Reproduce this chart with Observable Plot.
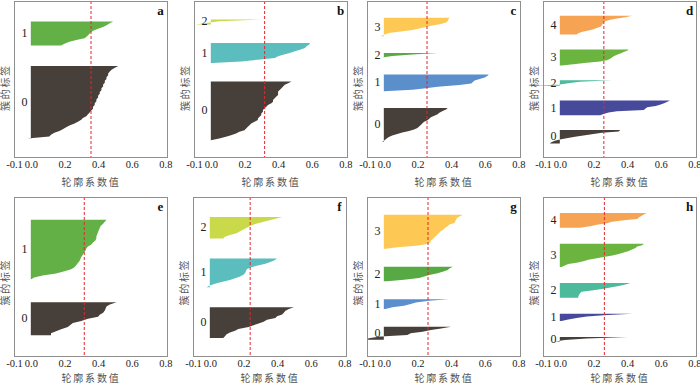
<!DOCTYPE html>
<html><head><meta charset="utf-8">
<script src="https://cdn.jsdelivr.net/npm/d3@7"></script>
<script src="https://cdn.jsdelivr.net/npm/@observablehq/plot@0.6"></script>
<style>
body{margin:0;background:#fff;}
#chart{position:relative;width:700px;height:384px;overflow:hidden;background:#fff;}
.panel{position:absolute;}
</style></head><body><div id="chart"></div>
<script>
// ---- data ----
const panelLetters = ["a","b","c","d","e","f","g","h"];
const xTicks = [-0.1, 0.0, 0.2, 0.4, 0.6, 0.8];
const meanScores = [0.355, 0.317, 0.254, 0.259, 0.315, 0.237, 0.260, 0.262];
const xTitle = "轮廓系数值";
const yTitle = "簇的标签";

// silhouette values of each cluster, sorted high -> low (one value per sample)
const a0 = [0.52,0.50,0.48,0.47,0.46,0.46,0.45,0.45,0.44,0.44,0.43,0.43,0.42,0.42,0.41,0.41,0.40,0.40,0.39,0.39,0.38,0.38,0.37,0.37,0.36,0.35,0.34,0.33,0.31,0.30,0.28,0.26,0.23,0.21,0.19,0.17,0.14,0.12,0.11,-0.02];
const a1 = [0.49,0.47,0.45,0.43,0.40,0.37,0.355,0.345,0.335,0.32,0.27,0.23,0.20,0.18];

const b0 = [0.48,0.46,0.44,0.43,0.42,0.41,0.40,0.40,0.40,0.39,0.38,0.37,0.37,0.36,0.34,0.33,0.32,0.31,0.31,0.30,0.30,0.29,0.28,0.28,0.26,0.24,0.23,0.22,0.21,0.20,0.17,0.15,0.12,0.09,0.05,0.00];
const b1 = [0.59,0.585,0.57,0.56,0.53,0.50,0.47,0.43,0.40,0.38,0.28,0.18,0.01];
const b2 = [0.31,0.05,-0.02,-0.09];

const c0 = [0.38,0.37,0.35,0.33,0.32,0.30,0.28,0.27,0.26,0.24,0.23,0.22,0.21,0.20,0.18,0.15,0.11,0.08,0.05,0.03,0.015,0.005,-0.01];
const c1 = [0.625,0.615,0.60,0.57,0.54,0.53,0.52,0.45,0.32,0.25,0.17,0.0];
const c2 = [0.32,0.17,0.05,-0.01];
const c3 = [0.39,0.385,0.38,0.37,0.34,0.29,0.25,0.21,0.17,0.10,0.03,0.0,-0.02];

const d0 = [0.36,0.35,0.25,0.19,0.14,0.09,0.04,0.0,-0.03,-0.05,-0.06];
const d1 = [0.655,0.64,0.62,0.60,0.57,0.52,0.51,0.50,0.34,0.29,0.26,0.24];
const d2 = [0.31,0.12,0.06,0.0,-0.16];
const d3 = [0.41,0.40,0.38,0.36,0.34,0.32,0.31,0.30,0.28,0.24,0.16,0.08,0.01];
const d4 = [0.43,0.39,0.34,0.30,0.27,0.26,0.255,0.25,0.245,0.22,0.20,0.17,0.13,0.11,0.10];

const e0 = [0.51,0.47,0.45,0.445,0.44,0.43,0.41,0.40,0.34,0.30,0.25,0.235,0.22,0.18,0.15,0.12,0.12];
const e1 = [0.45,0.44,0.43,0.415,0.41,0.405,0.40,0.395,0.39,0.39,0.385,0.37,0.36,0.34,0.33,0.325,0.315,0.31,0.30,0.295,0.29,0.28,0.27,0.26,0.24,0.20,0.15,0.07,0.02,0.0];

const f0 = [0.50,0.47,0.45,0.44,0.43,0.40,0.39,0.34,0.32,0.29,0.26,0.23,0.17,0.15,0.12,0.10,0.09,0.08];
const f1 = [0.40,0.385,0.36,0.33,0.28,0.24,0.22,0.215,0.21,0.20,0.18,0.15,0.12,0.07,0.03,0.0,-0.02];
const f2 = [0.43,0.39,0.35,0.31,0.27,0.24,0.22,0.20,0.18,0.16,0.12,0.09,0.08];

const g0 = [0.40,0.34,0.28,0.23,0.16,0.14,-0.02,-0.09,-0.10];
const g1 = [0.385,0.27,0.19,0.16,0.12,0.05,0.01];
const g2 = [0.41,0.39,0.38,0.35,0.32,0.27,0.24,0.21,0.12,0.02];
const g3 = [0.47,0.45,0.435,0.43,0.425,0.42,0.39,0.38,0.365,0.355,0.34,0.33,0.32,0.31,0.30,0.29,0.28,0.275,0.26,0.19,0.08,0.0];

const h0 = [0.40,0.16,0.03,-0.03];
const h1 = [0.43,0.26,0.16,0.10,0.05,0.01];
const h2 = [0.42,0.39,0.35,0.30,0.25,0.20,0.13,0.12,0.115,0.11,0.11];
const h3 = [0.50,0.49,0.46,0.45,0.43,0.41,0.38,0.35,0.32,0.27,0.22,0.17,0.14,0.10,0.05,0.03,0.01];
const h4 = [0.515,0.50,0.485,0.47,0.46,0.38,0.31,0.28,0.22,0.18,0.12];

const colors2 = ["#463f3a", "#63b146"];
const colors3 = ["#463f3a", "#5bbdbd", "#c9d94a"];
const colors4 = ["#463f3a", "#5b8fcc", "#57a944", "#fdc853"];
const colors5 = ["#463f3a", "#47499b", "#4cba9b", "#6bb43f", "#f6a453"];

const panelClusters = [[a0,a1],[b0,b1,b2],[c0,c1,c2,c3],[d0,d1,d2,d3,d4],
                       [e0,e1],[f0,f1,f2],[g0,g1,g2,g3],[h0,h1,h2,h3,h4]];
const panelColors = [colors2, colors3, colors4, colors5, colors2, colors3, colors4, colors5];

// ---- layout ----
const frameLefts = [14.3, 193.8, 367.4, 542.6, 14.3, 193.3, 367.4, 543.3];
const ML = 14, FW = 153, MR = 12, W = ML + FW + MR, H = 192;
const rowCfg = [
  {top: 0,   mt: 1, mb: 35, tickPad: 3,   titleDy: 25.5, yDy: 8},
  {top: 192, mt: 5, mb: 28, tickPad: 3.5, titleDy: 22.3, yDy: 5}
];

const chart = document.getElementById("chart");

panelClusters.forEach((clusters, p) => {
  const row = rowCfg[p < 4 ? 0 : 1];
  const colors = panelColors[p];
  const gap = 10;
  let yLower = 10;
  const rows = [], labels = [];
  clusters.forEach((vals, c) => {
    const n = vals.length;
    vals.forEach((v, j) => rows.push({c, y: yLower + (n - 1 - j), v}));
    labels.push({c, y: yLower + 0.5 * n});
    yLower += n + gap;
  });
  const total = yLower;

  const svg = Plot.plot({
    width: W, height: H,
    marginLeft: ML, marginRight: MR, marginTop: row.mt, marginBottom: row.mb,
    style: {fontFamily: "'Liberation Serif', 'Times New Roman', serif", fontSize: "10.5px",
            color: "#222", background: "transparent", overflow: "visible"},
    x: {domain: [-0.1, 0.81], axis: null},
    y: {domain: [0, total], axis: null},
    marks: [
      ...clusters.map((_, c) => Plot.areaX(rows.filter(d => d.c === c),
          {y: "y", x1: 0, x2: "v", fill: colors[c], curve: "linear"})),
      Plot.ruleX([meanScores[p]], {stroke: "#e3262f", strokeDasharray: "3,2", strokeWidth: 1}),
      Plot.frame({stroke: "#8f8f8f"}),
      Plot.axisX({ticks: xTicks, tickFormat: d => d.toFixed(1), tickSize: 0,
                  tickPadding: row.tickPad, label: null, fill: "#222"}),
      Plot.text(labels, {y: "y", text: d => String(d.c), frameAnchor: "left", dx: 10,
                         textAnchor: "middle", fontSize: 12, fill: "#222"}),
      Plot.text([xTitle], {text: d => d, frameAnchor: "bottom", dy: row.titleDy,
                           textAnchor: "middle", lineAnchor: "middle",
                           fontFamily: "'Noto Sans CJK SC', sans-serif", fontSize: 10, fill: "#555"}),
      Plot.text([yTitle], {text: d => d, frameAnchor: "left", dx: -8.3, dy: row.yDy, rotate: -90,
                           textAnchor: "middle", lineAnchor: "middle",
                           fontFamily: "'Noto Sans CJK SC', sans-serif", fontSize: 10, fill: "#555"}),
      Plot.text([panelLetters[p]], {text: d => d, frameAnchor: "top-right", dx: -7, dy: 9,
                           textAnchor: "middle", lineAnchor: "middle",
                           fontWeight: "bold", fontSize: 13, fill: "#111"})
    ]
  });
  svg.querySelectorAll("text").forEach(t => {
    if (t.textContent === xTitle || t.textContent === yTitle) t.style.letterSpacing = "1.8px";
  });
  const div = document.createElement("div");
  div.className = "panel";
  div.style.left = (frameLefts[p] - ML) + "px";
  div.style.top = row.top + "px";
  div.style.width = W + "px";
  div.style.height = H + "px";
  div.appendChild(svg);
  chart.appendChild(div);
});
</script></body></html>
